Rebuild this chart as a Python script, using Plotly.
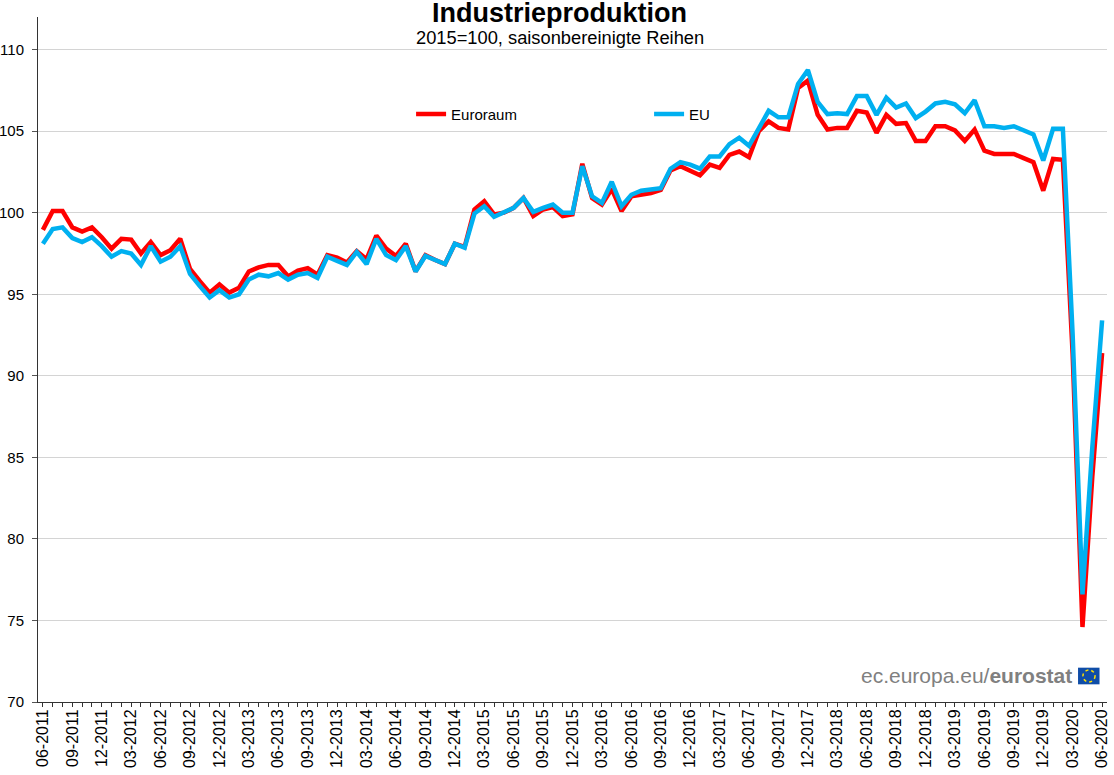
import plotly.graph_objects as go

months = []
for year in range(2011, 2021):
    for month in range(1, 13):
        if (year, month) >= (2011, 6) and (year, month) <= (2020, 6):
            months.append("%02d-%d" % (month, year))

euroraum = [98.95, 100.1, 100.1, 99.1, 98.85, 99.1, 98.5, 97.8, 98.4, 98.35,
            97.5, 98.2, 97.4, 97.7, 98.4, 96.55, 95.8, 95.1, 95.6, 95.1,
            95.4, 96.4, 96.65, 96.8, 96.8, 96.1, 96.45, 96.6, 96.2, 97.4,
            97.25, 96.95, 97.65, 97.15, 98.6, 97.8, 97.35, 98.1, 96.4, 97.4,
            97.1, 96.85, 98.1, 97.9, 100.2, 100.7, 99.9, 100.0, 100.3, 100.9,
            99.8, 100.2, 100.35, 99.8, 99.9, 103.0, 100.9, 100.5, 101.45, 100.1,
            101.0, 101.1, 101.2, 101.4, 102.6, 102.85, 102.55, 102.3, 102.95, 102.75,
            103.55, 103.75, 103.4, 105.0, 105.6, 105.2, 105.1, 107.65, 108.1, 106.0,
            105.1, 105.2, 105.2, 106.25, 106.15, 104.9, 106.0, 105.45, 105.5, 104.4,
            104.4, 105.3, 105.3, 105.05, 104.4, 105.1, 103.8, 103.6, 103.6, 103.6,
            103.35, 103.1, 101.35, 103.3, 103.25, 91.3, 74.6, 83.8, 91.4]

eu = [98.1, 99.0, 99.1, 98.45, 98.2, 98.5, 97.95, 97.3, 97.65, 97.5,
      96.8, 97.95, 97.0, 97.3, 97.95, 96.25, 95.5, 94.8, 95.25, 94.8,
      95.0, 95.9, 96.2, 96.1, 96.3, 95.9, 96.2, 96.3, 96.0, 97.3,
      97.05, 96.8, 97.6, 96.85, 98.4, 97.4, 97.1, 97.95, 96.4, 97.35,
      97.1, 96.85, 98.1, 97.85, 99.95, 100.4, 99.75, 100.0, 100.3, 100.9,
      100.05, 100.3, 100.5, 100.0, 100.0, 102.85, 101.0, 100.6, 101.9, 100.4,
      101.1, 101.35, 101.4, 101.5, 102.7, 103.1, 102.95, 102.7, 103.45, 103.45,
      104.2, 104.6, 104.1, 105.2, 106.25, 105.85, 105.85, 107.9, 108.75, 106.8,
      106.05, 106.1, 106.05, 107.15, 107.15, 106.0, 107.05, 106.45, 106.7, 105.8,
      106.2, 106.7, 106.8, 106.65, 106.1, 106.9, 105.3, 105.3, 105.2, 105.3,
      105.05, 104.8, 103.2, 105.15, 105.15, 92.5, 76.6, 85.6, 93.4]

y_ticks = [70, 75, 80, 85, 90, 95, 100, 105, 110]

fig = go.Figure()
fig.add_trace(go.Scatter(x=months, y=euroraum, mode="lines", name="Euroraum",
                         line=dict(color="#FF0000", width=4.5)))
fig.add_trace(go.Scatter(x=months, y=eu, mode="lines", name="EU",
                         line=dict(color="#00B0F0", width=4.5)))

fig.update_layout(
    width=1114, height=775,
    margin=dict(l=38, r=7, t=17, b=73),
    paper_bgcolor="white", plot_bgcolor="white",
    font=dict(family="Liberation Sans", color="#000000"),
    showlegend=True,
    legend=dict(orientation="h", x=0.349, y=0.858, xanchor="left", yanchor="middle",
                itemwidth=30, entrywidth=193, entrywidthmode="pixels",
                font=dict(size=15), bgcolor="rgba(0,0,0,0)"),
)

fig.update_xaxes(type="category", categoryorder="array", categoryarray=months,
                 range=[-0.5, 108.5], tickmode="array", tickvals=months[::3],
                 ticktext=months[::3], tickangle=-90, tickfont=dict(size=16),
                 ticks="", showgrid=False, showline=True, linecolor="#333333", linewidth=1,
                 automargin=False,
                 minor=dict(ticks="outside", tickmode="linear", tick0=-0.5, dtick=1,
                            ticklen=4, tickcolor="#333333", showgrid=False))
fig.update_yaxes(range=[70, 112], tickmode="array", tickvals=y_ticks,
                 tickfont=dict(size=15), ticks="outside", ticklen=5, tickcolor="#555555",
                 ticklabelstandoff=5, automargin=False,
                 showgrid=True, gridcolor="#D4D4D4", gridwidth=1,
                 showline=True, linecolor="#333333", linewidth=1, zeroline=False)

# titel
fig.add_annotation(text="<b>Industrieproduktion</b>", x=0.488, y=1.0058, xref="paper", yref="paper",
                   xanchor="center", yanchor="middle", showarrow=False, font=dict(size=27))
fig.add_annotation(text="2015=100, saisonbereinigte Reihen", x=0.488, y=0.9695, xref="paper", yref="paper",
                   xanchor="center", yanchor="middle", showarrow=False, font=dict(size=18.3))

# eurostat logo
fig.add_annotation(text="ec.europa.eu/<b>eurostat</b>", x=0.969, y=0.038, xref="paper", yref="paper",
                   xanchor="right", yanchor="middle", showarrow=False,
                   font=dict(size=21, color="#808080"))
fig.add_shape(type="rect", x0=0.9729, x1=0.993, y0=0.0258, y1=0.0501, xref="paper", yref="paper",
              fillcolor="#0F4DA8", line=dict(width=0))
fig.add_shape(type="circle", x0=0.9775, x1=0.9888, y0=0.0292, y1=0.0467, xref="paper", yref="paper",
              line=dict(color="#FFE000", width=1.5, dash="dot"))

fig.write_html("out.html", config=dict(displayModeBar=False),
               post_script="document.body.style.margin='0';")
